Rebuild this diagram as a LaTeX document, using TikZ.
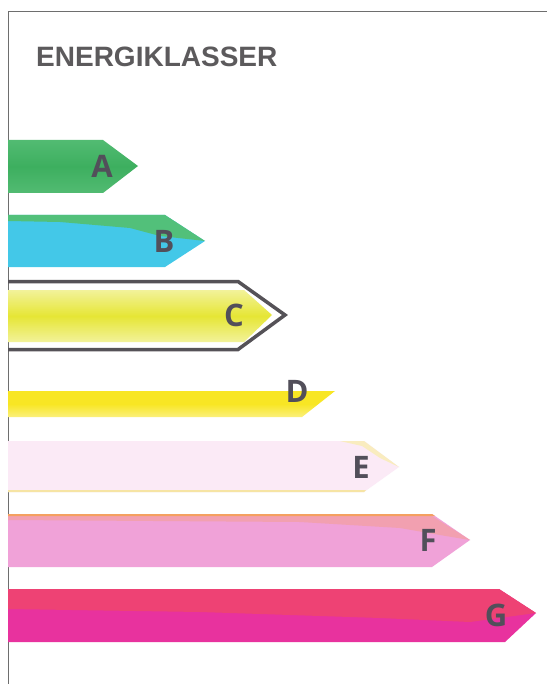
\documentclass[tikz,border=0pt]{standalone}
\usepackage{fontspec}
\setmainfont{Liberation Sans}
\newfontfamily\lblfont{Open Sans}
\begin{document}
\begin{tikzpicture}[x=1pt,y=-1pt,
  lbl/.style={font=\lblfont\bfseries\fontsize{31}{31}\selectfont, text=lettergray, inner sep=0pt},
  frameline/.style={draw=framegray, line width=1pt}]
\definecolor{framegray}{HTML}{6E6E6E}
\definecolor{titlegray}{HTML}{5C5A5C}
\definecolor{lettergray}{HTML}{524F5A}
\definecolor{agreen}{HTML}{3DAF5F}
\definecolor{agreenl}{HTML}{52BB72}
\definecolor{bcyan}{HTML}{43C8E8}
\definecolor{bgreen}{HTML}{52C07A}
\definecolor{cyel}{HTML}{E6E635}
\definecolor{cyell}{HTML}{F2F29A}
\definecolor{cline}{HTML}{555257}
\definecolor{dyel}{HTML}{F8E624}
\definecolor{dyell}{HTML}{FBF07C}
\definecolor{epink}{HTML}{FBEAF6}
\definecolor{eyel}{HTML}{F6E4A4}
\definecolor{fpink}{HTML}{F0A2D8}
\definecolor{forange}{HTML}{F4A060}
\definecolor{fsalmon}{HTML}{F2A0B0}
\definecolor{gred}{HTML}{EE4274}
\definecolor{gmag}{HTML}{E8329E}
\useasboundingbox (0,0) rectangle (547,684);
\fill[white] (0,0) rectangle (547,684);
% frame
\draw[frameline] (8,684) -- (8,12) -- (547,12);
% title
\node[anchor=base west, inner sep=0pt, text=titlegray, font=\bfseries\fontsize{28}{28}\selectfont] (title) at (36,67) {ENERGIKLASSER};
% A
\path[top color=agreenl, bottom color=agreenl, middle color=agreen] (8,140) -- (103,140) -- (138,166) -- (103,193) -- (8,193) -- cycle;
\node[lbl] (la) at (102,166) {A};
% B
\fill[bcyan] (8,215) -- (165,215) -- (205,241) -- (165,267) -- (8,267) -- cycle;
\fill[bgreen] (8,215) -- (165,215) -- (205,241) -- (160,236) -- (130,228) -- (60,222) -- (8,221) -- cycle;
\node[lbl] (lb) at (164,241) {B};
% C
\draw[cline, line width=3.5pt, line join=miter] (8,281.5) -- (238,281.5) -- (285,315) -- (238,349.5) -- (8,349.5);
\path[top color=cyell, bottom color=cyell, middle color=cyel] (8,290) -- (244,290) -- (272,315) -- (244,342) -- (8,342) -- cycle;
\node[lbl] (lc) at (234,315) {C};
% D
\path[top color=dyel, bottom color=dyell, middle color=dyel] (8,391) -- (335,391) -- (302,417) -- (8,417) -- cycle;
\node[lbl] (ld) at (297,391) {D};
% E
\fill[epink] (8,441) -- (364,441) -- (399,467) -- (364,492) -- (8,492) -- cycle;
\fill[eyel] (8,490) -- (366,490) -- (364,492) -- (8,492) -- cycle;
\fill[eyel!70] (340,441) -- (364,441) -- (399,467) -- (380,458) -- (362,446) -- cycle;
\node[lbl] (le) at (361,467) {E};
% F
\fill[fpink] (8,514) -- (432,514) -- (470,540) -- (432,567) -- (8,567) -- cycle;
\fill[fsalmon] (8,516) -- (432,516) -- (470,540) -- (440,535) -- (400,528) -- (300,522) -- (8,520) -- cycle;
\fill[forange] (8,514) -- (432,514) -- (435,516) -- (8,516) -- cycle;
\node[lbl] (lf) at (428,540) {F};
% G
\fill[gmag] (8,589) -- (499,589) -- (536,613) -- (505,642) -- (8,642) -- cycle;
\fill[gred] (8,589) -- (499,589) -- (536,613) -- (470,622) -- (380,618) -- (200,612) -- (8,609) -- cycle;
\node[lbl] (lg) at (496,615) {G};
\end{tikzpicture}
\end{document}
